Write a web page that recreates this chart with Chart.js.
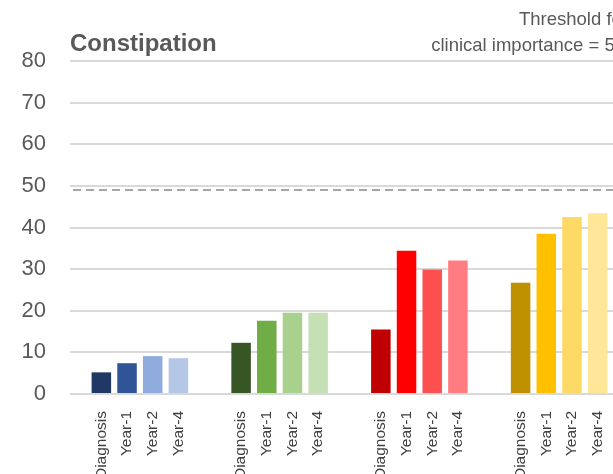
<!DOCTYPE html>
<html>
<head>
<meta charset="utf-8">
<script src="https://cdn.jsdelivr.net/npm/chart.js@4/dist/chart.umd.min.js"></script>
<style>
  html, body { margin: 0; padding: 0; background: #fff; overflow: hidden; }
  #wrap { width: 640px; height: 500px; }
</style>
</head>
<body>
<div id="wrap"><canvas id="graficoConstipacao"></canvas></div>
<script>
// timepoints shown under every group
const timepoints = ["Diagnosis", "Year-1", "Year-2", "Year-4"];

// one value per group (blue, green, red, yellow)
const diagnosis = [5.2, 12.3, 15.5, 26.7];
const year1 = [7.4, 17.6, 34.4, 38.5];
const year2 = [9.1, 19.5, 29.9, 42.5];
const year4 = [8.6, 19.5, 32.1, 43.4];

const yTicks = [0, 10, 20, 30, 40, 50, 60, 70, 80];
const threshold = 49;
const thresholdText = ["Threshold for", "clinical importance = 50"];

const coresDiagnosis = ["#1f3864", "#375623", "#c00000", "#bf9000"];
const coresYear1 = ["#2f5597", "#70ad47", "#ff0000", "#ffc000"];
const coresYear2 = ["#8faadc", "#a9d18e", "#ff5050", "#ffd966"];
const coresYear4 = ["#b4c7e7", "#c5e0b4", "#ff7c80", "#ffe699"];

const groupLabels = diagnosis.map(() => timepoints);
const pitch = 25.7;

const linhaThreshold = {
    id: "linhaThreshold",
    afterDatasetsDraw(chart) {
        const {ctx, chartArea, scales} = chart;
        const y = scales.y.getPixelForValue(threshold);
        ctx.save();
        ctx.strokeStyle = "#a6a6a6";
        ctx.lineWidth = 2;
        ctx.setLineDash([8, 5]);
        ctx.beginPath();
        ctx.moveTo(chartArea.left + 3, y);
        ctx.lineTo(chartArea.right, y);
        ctx.stroke();
        ctx.setLineDash([]);
        ctx.fillStyle = "#595959";
        ctx.font = "18.5px 'Liberation Sans', Arial";
        ctx.textAlign = "right";
        ctx.textBaseline = "middle";
        ctx.fillText(thresholdText[0], chartArea.right - 1, 20);
        ctx.fillText(thresholdText[1], chartArea.right - 4, 46);
        ctx.restore();
    }
};

const graf = document.getElementById("graficoConstipacao");

new Chart(graf, {
    type: "bar",

    data: {
        labels: groupLabels,

        datasets: [
            { label: timepoints[0], data: diagnosis, backgroundColor: coresDiagnosis },
            { label: timepoints[1], data: year1, backgroundColor: coresYear1 },
            { label: timepoints[2], data: year2, backgroundColor: coresYear2 },
            { label: timepoints[3], data: year4, backgroundColor: coresYear4 },
        ],
    },

    options: {
        responsive: true,
        maintainAspectRatio: false,
        animation: false,

        categoryPercentage: 0.735,
        barPercentage: 0.76,
        borderWidth: 0,

        layout: {
            padding: { left: 0, right: 11, top: 0, bottom: 0 },
        },

        plugins: {
            legend: { display: false },
            tooltip: { enabled: false },
            title: {
                display: true,
                text: "Constipation",
                align: "start",
                fullSize: false,
                color: "#595959",
                font: { family: "'Liberation Sans', Arial", size: 24, weight: "bold", lineHeight: 1.2 },
                padding: { top: 29.5, bottom: 2.7 },
            },
        },

        scales: {
            x: {
                grid: { display: false },
                border: { display: false },
                ticks: {
                    autoSkip: false,
                    minRotation: 90,
                    maxRotation: 90,
                    padding: 9,
                    labelOffset: -1.5 * pitch,
                    color: "#404040",
                    font: { family: "'Liberation Sans', Arial", size: 15.5, lineHeight: pitch + "px" },
                },
                afterFit(scale) {
                    scale.paddingLeft = 0;
                    scale.paddingRight = 0;
                    scale.height = 106;
                },
            },
            y: {
                min: yTicks[0],
                max: yTicks[yTicks.length - 1],
                border: { display: false },
                grid: { color: "#d9d9d9", lineWidth: 2, drawTicks: false },
                ticks: {
                    stepSize: yTicks[1] - yTicks[0],
                    padding: 24,
                    color: "#595959",
                    font: { family: "'Liberation Sans', Arial", size: 22 },
                },
                afterFit(scale) {
                    scale.width = 70;
                },
            },
        },
    },

    plugins: [linhaThreshold],
});
</script>
</body>
</html>
